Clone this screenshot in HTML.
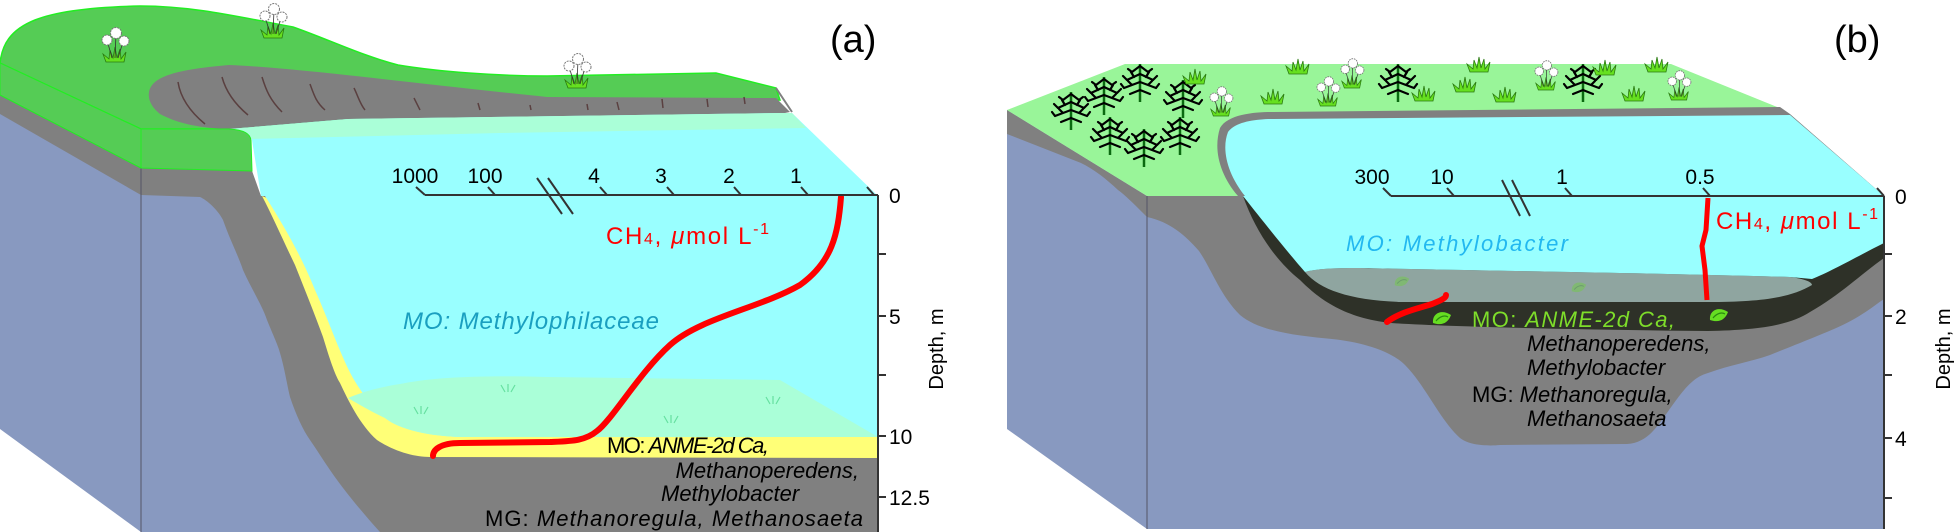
<!DOCTYPE html>
<html><head><meta charset="utf-8"><style>
html,body{margin:0;padding:0;background:#fff;}
svg{display:block;}
text{font-family:"Liberation Sans",sans-serif;}
</style></head><body>
<svg width="1958" height="532" viewBox="0 0 1958 532" xmlns="http://www.w3.org/2000/svg">
<defs>
<g id="grass"><path d="M-9,0 L9,0 L11,-10 L6,-3 L5,-13 L2,-4 L0,-15 L-2,-4 L-5,-12 L-6,-3 L-12,-8 Z" fill="#66e020" stroke="#2a7a10" stroke-width="0.8"/></g>
<g id="flower"><use href="#grass"/><path d="M-3,-4 L-8,-22 M0,-4 L1,-28 M3,-4 L8,-20" stroke="#333" stroke-width="0.8" fill="none"/>
<circle cx="-8" cy="-22" r="5" fill="#fff" stroke="#777" stroke-width="1" stroke-dasharray="2 1"/><circle cx="1" cy="-29" r="5.5" fill="#fff" stroke="#777" stroke-width="1" stroke-dasharray="2 1"/><circle cx="9" cy="-21" r="5" fill="#fff" stroke="#777" stroke-width="1" stroke-dasharray="2 1"/></g>
<g id="tree"><path d="M0,0 L0,-38" stroke="#0a6a10" stroke-width="2.5"/>
<path d="M0,-36 L-8,-30 M0,-36 L8,-30 M0,-28 L-13,-22 M0,-28 L13,-22 M0,-20 L-16,-14 M0,-20 L16,-14 M0,-12 L-10,-8 M0,-12 L10,-8 M-8,-30 L-12,-33 M8,-30 L12,-33 M-13,-22 L-17,-26 M13,-22 L17,-26 M-16,-14 L-19,-18 M16,-14 L19,-18 M-6,-25 L-9,-30 M6,-25 L9,-30 M-8,-17 L-12,-21 M8,-17 L12,-21" stroke="#000" stroke-width="2.2" stroke-linecap="round" fill="none"/></g>
<g id="leaf"><path d="M-9,4 C-10,-6 0,-10 9,-4 C6,4 0,7 -9,4 Z" fill="#66dd22"/><path d="M-6,2 C-2,-3 3,-4 6,-2" stroke="#2a8a10" stroke-width="1.2" fill="none"/></g>
</defs>

<!-- ============ PANEL A ============ -->
<polygon points="0,63 141,129 141,532 0,429" fill="#8899c0"/>
<polygon points="0,95 141,168 141,195 0,114" fill="#808080"/>
<path d="M0,63 C2,45 10,30 35,20 C55,12 90,7 140,6 C190,6 230,15 293,27 C330,40 360,55 398,65 C440,72 500,76 547,76 L716,73 L776,88 L780,100 L229,129 L141,129 Z" fill="#55cc55" stroke="#22ee22" stroke-width="1.5"/>
<polygon points="0,63 141,129 141,168 0,95" fill="#55cc55" stroke="#22ee22" stroke-width="1"/>
<path d="M149,92 C152,78 170,70 229,65 C300,68 400,82 547,97 L776,98 L790,112 L780,114 L348,119 L229,129 C195,128 175,122 160,114 C150,106 148,98 149,92 Z" fill="#808080"/>
<g stroke="#5a4040" stroke-width="1.5" fill="none">
<path d="M178,82 C180,95 188,110 205,124"/><path d="M222,77 C226,92 236,105 248,115"/><path d="M262,77 C266,90 270,100 282,112"/><path d="M310,84 C314,95 316,102 325,110"/><path d="M354,88 C358,96 360,104 365,110"/><path d="M414,98 L420,110"/><path d="M478,103 L480,110"/><path d="M530,105 L531,110"/><path d="M587,104 L588,110"/><path d="M617,102 L619,110"/><path d="M662,99 L663,108"/><path d="M707,99 L708,107"/><path d="M744,97 L745,104"/></g>
<path d="M251,134 L229,129 L348,119 L780,113 L792,113 L878,196 L261,196 Z" fill="#99ffff"/>
<path d="M229,129 L348,119 L780,113 L792,113 L806,128 L500,133 L251,139 Z" fill="#aaffd8"/>
<line x1="776" y1="88" x2="792" y2="112" stroke="#808080" stroke-width="2"/>
<!-- front face -->
<polygon points="141,168 251,168 261,196 878,196 878,532 141,532" fill="#808080"/>
<path d="M141,195 L200,197 C207,200 218,210 223,220 C230,240 238,255 243,270 C252,290 262,305 267,320 C273,335 278,345 280,353 C285,370 287,385 290,397 C296,415 303,430 310,440 C317,450 323,460 330,470 C340,485 360,510 380,532 L141,532 Z" fill="#8899c0"/>
<line x1="141" y1="129" x2="141" y2="532" stroke="#556" stroke-width="1"/>
<path d="M141,129 L229,129 C245,130 250,134 251,140 L252,171 L141,168 Z" fill="#55cc55" stroke="#22ee22" stroke-width="1"/>
<path d="M262,196 C272,215 283,240 295,265 C305,290 315,315 323,337 C330,360 335,375 340,383 C348,400 360,425 377,440 C395,452 415,457 430,457 L878,458 L878,437 Z" fill="#ffff77"/>
<path d="M265,196 L878,196 L878,437 L460,437 C430,436 400,430 385,418 C370,405 355,385 345,362 C335,340 325,312 315,290 C305,265 290,235 265,196 Z" fill="#99ffff"/>
<path d="M348,398 C362,392 380,387 400,384 C430,378 470,375 547,377 L780,380 L878,437 L460,437 C430,436 400,430 385,418 C372,412 360,405 348,398 Z" fill="#aaffd8"/>
<g stroke="#66e0a0" stroke-width="1.2" fill="none">
<path d="M418,414 l-4,-7 M421,414 l0,-8 M424,414 l4,-7"/><path d="M505,392 l-4,-7 M508,392 l0,-8 M511,392 l4,-7"/><path d="M668,423 l-4,-7 M671,423 l0,-8 M674,423 l4,-7"/><path d="M770,404 l-4,-7 M773,404 l0,-8 M776,404 l4,-7"/></g>
<path d="M841,197 C838,235 832,262 800,285 C760,308 700,318 670,345 C640,372 612,420 597,431 C585,441 572,441 550,442 L460,443 C440,443 433,450 433,456" stroke="#ff0000" stroke-width="6" fill="none" stroke-linecap="round"/>
<use href="#flower" transform="translate(115,62)"/>
<use href="#flower" transform="translate(273,38)"/>
<use href="#flower" transform="translate(577,88)"/>
<g stroke="#333" stroke-width="2" fill="none">
<line x1="425" y1="195" x2="878" y2="195"/><line x1="878" y1="195" x2="878" y2="532"/>
<path d="M425,195 L416,187 M495,195 L488,187 M607,195 L600,187 M674,195 L667,187 M741,195 L734,187 M808,195 L801,187 M874,195 L867,187"/>
<path d="M537,178 L562,214 M548,178 L573,214"/>
<path d="M878,254 L886,254 M878,316 L886,316 M878,375 L886,375 M878,436 L886,436 M878,497 L886,497"/>
</g>
<g font-size="21" fill="#000" text-anchor="middle">
<text x="415" y="183">1000</text><text x="485" y="183">100</text><text x="594" y="183">4</text><text x="661" y="183">3</text><text x="729" y="183">2</text><text x="796" y="183">1</text></g>
<g font-size="21" fill="#000"><text x="889" y="203">0</text><text x="889" y="324">5</text><text x="889" y="444">10</text><text x="889" y="505">12.5</text></g>
<text transform="translate(943,349) rotate(-90)" font-size="20" text-anchor="middle">Depth, m</text>
<text x="606" y="244" font-size="24" fill="#ff0000" textLength="163">CH<tspan font-size="16">4</tspan>, <tspan font-style="italic">μ</tspan>mol L<tspan font-size="16" dy="-10">-1</tspan></text>
<text x="403" y="329" font-size="24" font-style="italic" fill="#1a9fc0" textLength="256">MO: Methylophilaceae</text>
<g font-size="22" fill="#000">
<text x="607" y="453" textLength="162">MO: <tspan font-style="italic">ANME-2d Ca,</tspan></text>
<text x="859" y="478" font-style="italic" text-anchor="end">Methanoperedens,</text>
<text x="661" y="501" font-style="italic">Methylobacter</text>
<text x="485" y="526" textLength="378">MG: <tspan font-style="italic">Methanoregula, Methanosaeta</tspan></text>
</g>
<text x="830" y="52" font-size="38" fill="#000">(a)</text>

<!-- ============ PANEL B ============ -->
<polygon points="1007,110 1147,196 1147,529 1007,429" fill="#8899c0"/>
<path d="M1007,110 L1147,196 L1147,217 C1135,205 1125,195 1118,190 C1105,178 1095,170 1081,163 L1007,134 Z" fill="#808080"/>
<polygon points="1007,110 1125,64 1671,64 1782,109 1884,196 1147,196" fill="#99f599"/>
<path d="M1238,196 C1220,175 1213,150 1220,128 C1228,114 1255,112 1273,112 L1780,107 L1790,114 L1884,196 Z" fill="#808080"/>
<path d="M1245,196 C1228,175 1221,150 1228,132 C1235,122 1255,119 1273,119 L1790,115 L1884,196 Z" fill="#99ffff"/>
<rect x="1147" y="196" width="737" height="333" fill="#8899c0"/>
<path d="M1147,196 L1147,217 C1170,222 1185,235 1199,251 C1212,270 1220,295 1240,315 C1260,332 1300,336 1332,339 C1360,342 1390,350 1405,365 C1425,385 1440,420 1460,438 C1470,446 1490,446 1500,445 L1627,444 C1645,443 1655,430 1664,417 C1680,395 1690,378 1708,373 C1730,365 1750,362 1770,355 C1800,343 1820,335 1834,329 C1860,318 1875,305 1884,299 L1884,196 Z" fill="#808080"/>
<path d="M1243,196 C1255,230 1275,260 1300,280 C1320,300 1345,318 1391,323 C1450,327 1600,330 1708,331 C1760,330 1790,325 1810,312 C1840,295 1860,275 1884,258 L1884,196 Z" fill="#2e3128"/>
<path d="M1305,272 C1320,268 1340,268 1360,268 C1450,270 1650,273 1790,277 C1805,279 1812,282 1812,285 C1790,298 1760,302 1708,302 L1400,302 C1350,300 1320,290 1305,272 Z" fill="#8fa5a0"/>
<path d="M1243,196 L1884,196 L1884,243 C1860,255 1830,272 1812,279 L1790,277 C1650,273 1450,270 1360,268 C1340,268 1320,268 1305,272 C1290,255 1270,230 1243,196 Z" fill="#99ffff"/>
<line x1="1147" y1="196" x2="1147" y2="529" stroke="#556" stroke-width="1"/>
<use href="#leaf" transform="translate(1442,319)"/><use href="#leaf" transform="translate(1719,316)"/>
<use href="#leaf" transform="translate(1402,282) scale(0.8)" opacity="0.35"/><use href="#leaf" transform="translate(1579,288) scale(0.8)" opacity="0.35"/>
<path d="M1708,198 L1706,230 L1702,246 L1705,270 L1707,300" stroke="#ff0000" stroke-width="5" fill="none"/>
<path d="M1387,322 C1400,312 1420,308 1432,304 C1442,300 1446,298 1446,295" stroke="#ff0000" stroke-width="6" fill="none" stroke-linecap="round"/>
<use href="#tree" transform="translate(1071,130)"/><use href="#tree" transform="translate(1104,115)"/><use href="#tree" transform="translate(1140,102)"/><use href="#tree" transform="translate(1183,118)"/>
<use href="#tree" transform="translate(1110,155)"/><use href="#tree" transform="translate(1144,167)"/><use href="#tree" transform="translate(1180,155)"/>
<use href="#tree" transform="translate(1398,102)"/><use href="#tree" transform="translate(1583,102)"/>
<use href="#grass" transform="translate(1195,84)"/><use href="#grass" transform="translate(1273,104)"/><use href="#grass" transform="translate(1298,74)"/><use href="#grass" transform="translate(1424,101)"/><use href="#grass" transform="translate(1465,92)"/><use href="#grass" transform="translate(1479,72)"/><use href="#grass" transform="translate(1505,102)"/><use href="#grass" transform="translate(1605,75)"/><use href="#grass" transform="translate(1634,101)"/><use href="#grass" transform="translate(1657,72)"/>
<use href="#flower" transform="translate(1221,116) scale(0.85)"/><use href="#flower" transform="translate(1328,106) scale(0.85)"/><use href="#flower" transform="translate(1352,88) scale(0.85)"/><use href="#flower" transform="translate(1546,90) scale(0.85)"/><use href="#flower" transform="translate(1679,100) scale(0.85)"/>
<g stroke="#333" stroke-width="2" fill="none">
<line x1="1391" y1="196" x2="1884" y2="196"/><line x1="1884" y1="196" x2="1884" y2="529"/>
<path d="M1391,196 L1383,188 M1454,196 L1447,188 M1572,196 L1565,188 M1710,196 L1703,188 M1884,196 L1877,188"/>
<path d="M1502,180 L1520,216 M1512,180 L1530,216"/>
<path d="M1884,254 L1892,254 M1884,316 L1892,316 M1884,375 L1892,375 M1884,438 L1892,438 M1884,498 L1892,498"/>
</g>
<g font-size="21" fill="#000" text-anchor="middle">
<text x="1372" y="184">300</text><text x="1442" y="184">10</text><text x="1562" y="184">1</text><text x="1700" y="184">0.5</text></g>
<g font-size="21" fill="#000"><text x="1895" y="204">0</text><text x="1895" y="324">2</text><text x="1895" y="446">4</text></g>
<text transform="translate(1950,349) rotate(-90)" font-size="20" text-anchor="middle">Depth, m</text>
<text x="1716" y="229" font-size="24" fill="#ff0000" textLength="162">CH<tspan font-size="16">4</tspan>, <tspan font-style="italic">μ</tspan>mol L<tspan font-size="16" dy="-10">-1</tspan></text>
<text x="1346" y="251" font-size="22" font-style="italic" fill="#22b8f0" textLength="222">MO: Methylobacter</text>
<text x="1472" y="327" font-size="22" fill="#7edd2a" textLength="203">MO: <tspan font-style="italic">ANME-2d Ca,</tspan></text>
<g font-size="22" fill="#000" font-style="italic">
<text x="1527" y="351">Methanoperedens,</text>
<text x="1527" y="375">Methylobacter</text>
<text x="1472" y="402"><tspan font-style="normal">MG: </tspan>Methanoregula,</text>
<text x="1527" y="426">Methanosaeta</text>
</g>
<text x="1834" y="52" font-size="38" fill="#000">(b)</text>
</svg>
</body></html>
